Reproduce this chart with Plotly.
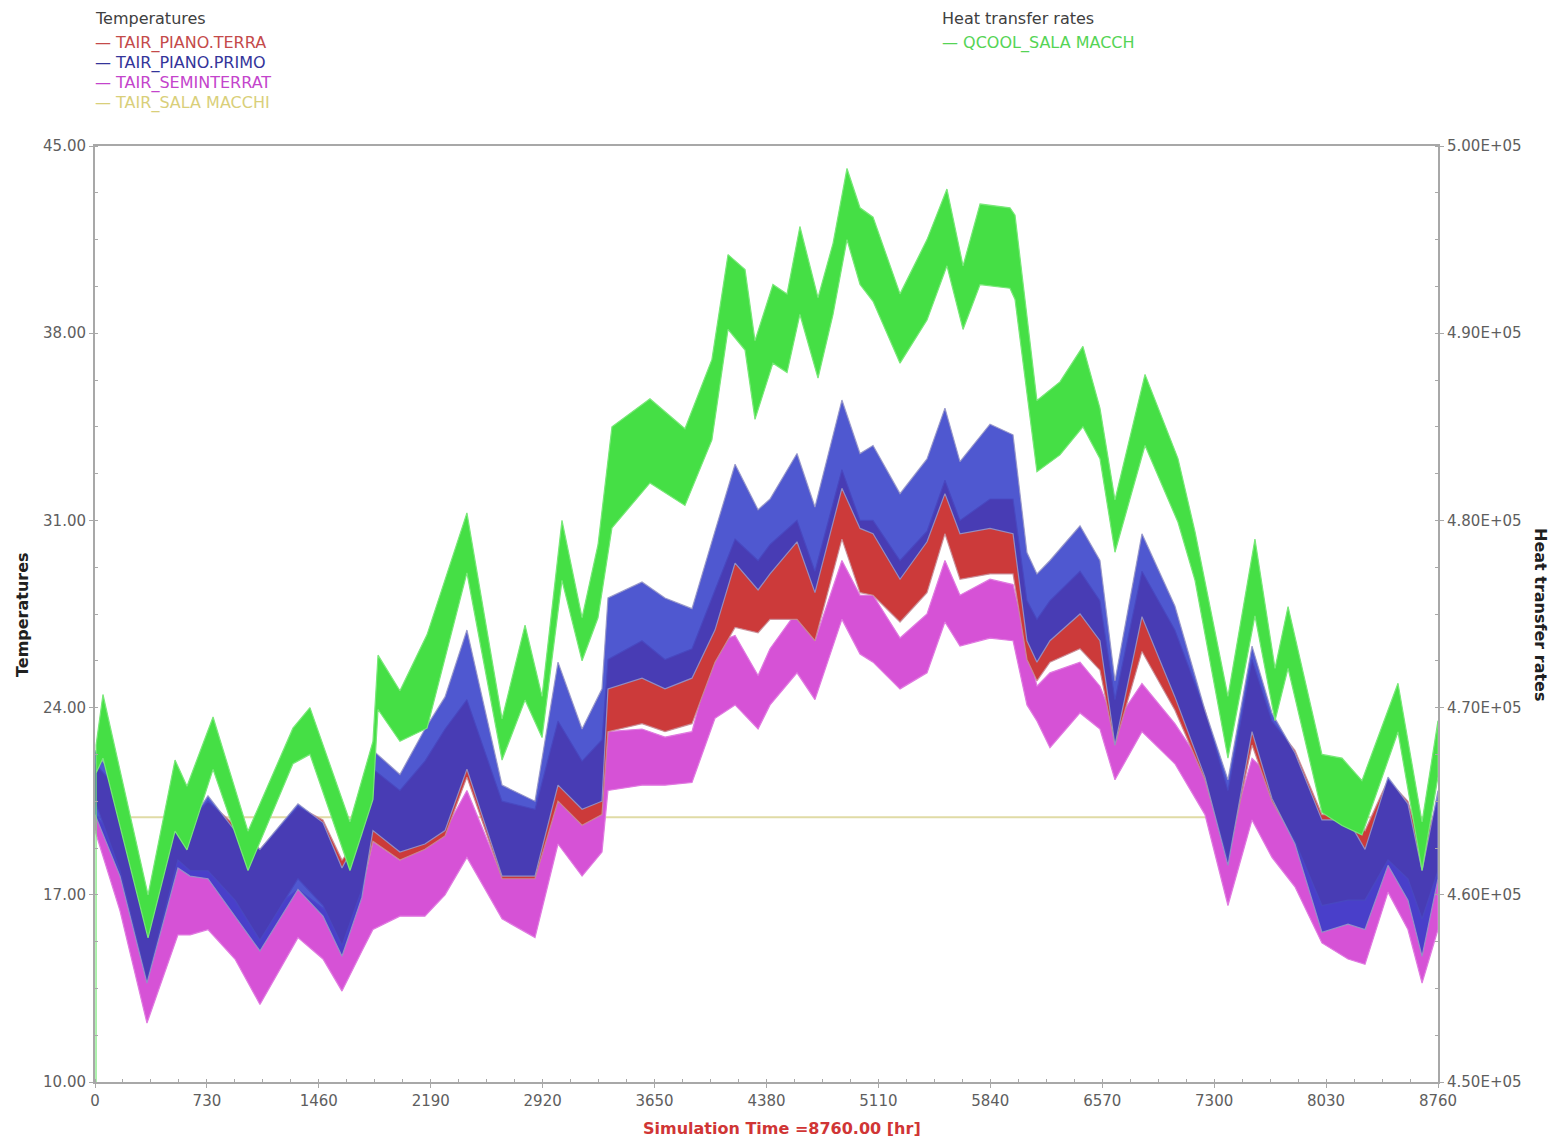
import plotly.graph_objects as go

# ---------------- data ----------------
# Temperatures: envelope (upper / lower edge of the hourly band) at sample hours
hours_t = [0, 163, 339, 541, 620, 737, 913, 1076, 1324, 1487,
           1611, 1741, 1813, 1989, 2152, 2283, 2426, 2655, 2870, 3020,
           3177, 3307, 3346, 3568, 3718, 3894, 4044, 4175, 4325, 4403,
           4579, 4696, 4872, 4990, 5075, 5251, 5427, 5544, 5642, 5838,
           5988, 6079, 6144, 6229, 6425, 6555, 6653, 6829, 7044, 7240,
           7390, 7547, 7677, 7827, 8003, 8173, 8284, 8434, 8564, 8656,
           8760]

primo_hi = [22.4, 21.1, 15.7, 21.7, 19.7, 20.7, 19.4, 18.7, 20.4, 19.7,
            18.0, 19.4, 22.4, 21.5, 23.2, 24.4, 26.9, 21.1, 20.5, 25.7,
            23.2, 24.7, 28.1, 28.7, 28.1, 27.7, 30.6, 33.1, 31.4, 31.8,
            33.5, 31.5, 35.5, 33.5, 33.8, 32.0, 33.3, 35.2, 33.2, 34.6,
            34.2, 29.8, 29.0, 29.5, 30.8, 29.5, 25.0, 30.5, 27.8, 23.9,
            21.3, 26.3, 23.8, 22.3, 19.8, 19.8, 18.7, 21.4, 20.4, 17.9,
            20.9]
primo_lo = [20.0, 17.7, 13.7, 18.0, 17.7, 17.6, 16.2, 14.9, 17.2, 16.2,
            14.7, 16.9, 19.4, 18.6, 18.9, 19.4, 21.7, 17.7, 17.7, 21.1,
            20.2, 20.5, 24.7, 25.1, 24.7, 25.1, 26.9, 29.4, 28.4, 29.0,
            30.2, 28.3, 32.2, 30.7, 30.5, 28.8, 30.2, 32.0, 30.5, 30.7,
            30.5, 26.5, 25.7, 26.5, 27.5, 26.5, 22.6, 27.4, 24.4, 21.4,
            18.1, 23.1, 20.6, 18.9, 15.6, 15.9, 15.7, 18.1, 16.8, 14.7,
            17.6]

terra_hi = [21.9, 20.9, 15.9, 21.3, 19.8, 20.5, 19.6, 18.7, 20.3, 19.8,
            18.3, 19.2, 21.7, 20.9, 22.0, 23.2, 24.3, 20.5, 20.2, 23.5,
            22.0, 22.8, 25.8, 26.5, 25.8, 26.2, 28.4, 30.3, 29.5, 30.1,
            31.0, 29.1, 32.9, 31.0, 31.0, 29.5, 30.6, 32.5, 31.0, 31.8,
            31.8, 28.0, 27.3, 28.0, 29.1, 28.0, 24.3, 29.1, 26.9, 23.9,
            20.9, 25.8, 23.5, 22.4, 20.0, 20.0, 19.4, 21.3, 20.5, 18.7,
            20.5]
terra_lo = [20.5, 17.9, 13.8, 18.3, 17.9, 17.9, 16.8, 15.3, 17.6, 16.6,
            15.1, 17.2, 19.0, 18.3, 18.7, 19.2, 21.4, 17.6, 17.6, 20.5,
            19.6, 20.0, 23.1, 23.4, 23.1, 23.4, 25.7, 27.0, 26.8, 27.3,
            27.3, 26.5, 30.3, 28.3, 28.2, 27.2, 28.3, 30.5, 28.8, 29.0,
            29.0, 25.8, 25.0, 25.7, 26.2, 25.4, 22.6, 26.1, 23.9, 21.3,
            18.3, 22.6, 20.5, 19.0, 16.6, 16.8, 16.8, 18.3, 17.6, 16.1,
            17.9]

semi_hi = [20.0, 18.9, 14.4, 18.6, 18.0, 18.5, 17.2, 16.1, 17.2, 16.5,
           15.9, 17.2, 19.0, 18.3, 18.9, 19.4, 20.9, 17.7, 18.0, 21.2,
           20.1, 20.7, 23.1, 23.2, 22.9, 23.1, 26.4, 26.7, 25.2, 26.2,
           27.6, 26.5, 29.5, 28.2, 28.2, 26.6, 27.5, 29.5, 28.2, 28.8,
           28.6, 26.5, 24.8, 25.3, 25.7, 24.8, 23.4, 24.9, 23.4, 21.7,
           19.0, 22.1, 21.4, 19.8, 17.6, 17.6, 16.8, 19.0, 18.3, 16.1,
           18.3]
semi_lo = [19.4, 16.4, 12.2, 15.5, 15.5, 15.7, 14.6, 12.9, 15.4, 14.6,
           13.4, 14.9, 15.7, 16.2, 16.2, 17.0, 18.4, 16.1, 15.4, 18.9,
           17.7, 18.6, 20.9, 21.1, 21.1, 21.2, 23.6, 24.1, 23.2, 24.1,
           25.3, 24.3, 27.3, 26.0, 25.7, 24.7, 25.3, 27.2, 26.3, 26.6,
           26.5, 24.1, 23.5, 22.5, 23.8, 23.2, 21.3, 23.1, 21.9, 20.0,
           16.6, 19.8, 18.4, 17.3, 15.2, 14.6, 14.4, 17.1, 15.7, 13.7,
           15.7]

sala_hours = [0, 8760]
sala_temp = [19.9, 19.9]

# Heat transfer rate QCOOL (right axis)
hours_q = [0, 7, 52, 346, 522, 600, 770, 998, 1291, 1402,
           1663, 1813, 1846, 1989, 2166, 2426, 2655, 2805, 2916, 3046,
           3177, 3281, 3372, 3620, 3848, 4024, 4129, 4240, 4305, 4422,
           4514, 4598, 4716, 4814, 4905, 4990, 5075, 5251, 5427, 5557,
           5662, 5773, 5968, 6001, 6144, 6294, 6444, 6555, 6653, 6849,
           7064, 7175, 7390, 7566, 7697, 7782, 8003, 8134, 8264, 8499,
           8656, 8760]
q_hi = [0, 468000, 470700, 460000, 467200, 465800, 469500, 463400, 468900, 470000,
        463900, 468200, 472800, 470900, 473900, 480400, 469400, 474400, 470600, 480000,
        474800, 478700, 485000, 486500, 484900, 488600, 494200, 493400, 489600, 492600,
        492100, 495700, 491900, 494800, 498800, 496700, 496200, 492100, 495000, 497700,
        493600, 496900, 496700, 496300, 486400, 487400, 489300, 486000, 481100, 487800,
        483300, 479400, 470600, 479000, 472100, 475400, 467500, 467300, 466100, 471300,
        463900, 469300]
q_lo = [0, 466500, 467300, 457700, 463400, 462400, 466700, 461300, 467000, 467500,
        461300, 465100, 469900, 468200, 468900, 477200, 467200, 470400, 468400, 476800,
        472500, 474800, 479600, 482000, 480800, 484300, 490200, 489100, 485400, 488400,
        487900, 491000, 487600, 491000, 495000, 492600, 491700, 488400, 490700, 493600,
        490200, 492600, 492400, 491800, 482600, 483500, 485000, 483300, 478300, 484000,
        479900, 476800, 467300, 474900, 469300, 472100, 464400, 463700, 463200, 468700,
        461300, 466300]

x_ticks = [0, 730, 1460, 2190, 2920, 3650, 4380, 5110, 5840, 6570, 7300, 8030, 8760]
t_ticks = [10, 17, 24, 31, 38, 45]
q_ticks = [450000, 460000, 470000, 480000, 490000, 500000]

# ---------------- figure ----------------
W, H = 1558, 1143
L, R, T, B = 95, 120, 146, 61
PW, PH = W - L - R, H - T - B


def px(x):
    return (x - L) / PW


def py(y):
    return (H - B - y) / PH


FONT = "DejaVu Sans"
fig = go.Figure()


def band(hours, hi, lo, fillcolor, linecolor, yaxis="y"):
    fig.add_trace(go.Scatter(
        x=list(hours) + list(hours)[::-1],
        y=list(hi) + list(lo)[::-1],
        fill="toself", fillcolor=fillcolor, mode="lines",
        line=dict(color=linecolor, width=1.2),
        yaxis=yaxis, showlegend=False, hoverinfo="skip"))


fig.add_trace(go.Scatter(x=sala_hours, y=sala_temp, mode="lines",
                         line=dict(color="#e0dba6", width=2),
                         showlegend=False, hoverinfo="skip"))
band(hours_t, semi_hi, semi_lo, "#d652d6", "#e07ae0")
band(hours_t, terra_hi, terra_lo, "#cc3a3a", "rgba(200,140,150,0.9)")
band(hours_t, primo_hi, primo_lo, "rgba(50,60,200,0.86)", "rgba(150,150,200,0.9)")
band(hours_q, q_hi, q_lo, "#45df45", "#78e878", yaxis="y2")

tick_font = dict(family=FONT, size=15, color="#5e5e5e")
axis_col = "#a8a8a8"

fig.update_layout(
    width=W, height=H, autosize=False,
    margin=dict(l=L, r=R, t=T, b=B, autoexpand=False),
    paper_bgcolor="white", plot_bgcolor="white",
    showlegend=False,
    xaxis=dict(range=[0, 8760], tickmode="array", tickvals=x_ticks,
               ticktext=[str(v) for v in x_ticks], tickfont=tick_font,
               showgrid=False, zeroline=False, showline=True, linecolor=axis_col,
               linewidth=2, mirror=True, ticks="outside", ticklen=4, tickcolor=axis_col,
               automargin=False,
               minor=dict(dtick=182.5, tick0=0, ticks="inside", ticklen=3, tickcolor=axis_col)),
    yaxis=dict(range=[10, 45], tickmode="array", tickvals=t_ticks,
               ticktext=[f"{v:.2f}" for v in t_ticks], tickfont=tick_font,
               showgrid=False, zeroline=False, showline=True, linecolor=axis_col,
               linewidth=2, ticks="outside", ticklen=4, tickcolor=axis_col,
               automargin=False,
               minor=dict(dtick=1.75, tick0=10, ticks="inside", ticklen=3, tickcolor=axis_col)),
    yaxis2=dict(range=[450000, 500000], overlaying="y", side="right",
                tickmode="array", tickvals=q_ticks,
                ticktext=[f"{v:.2E}" for v in q_ticks], tickfont=tick_font,
                showgrid=False, zeroline=False, showline=True, linecolor=axis_col,
                linewidth=2, ticks="outside", ticklen=4, tickcolor=axis_col,
                automargin=False,
                minor=dict(dtick=2500, tick0=450000, ticks="inside", ticklen=3, tickcolor=axis_col)),
)

ann = []


def text(x, y, s, color, size=16, bold=False, angle=0, xanchor="left"):
    ann.append(dict(xref="paper", yref="paper", x=px(x), y=py(y), text=(f"<b>{s}</b>" if bold else s),
                    showarrow=False, xanchor=xanchor, yanchor="middle", textangle=angle,
                    font=dict(family=FONT, size=size, color=color)))


# legend blocks
text(93, 18, "Temperatures", "#404040")
text(93, 43, "\u2014 TAIR_PIANO.TERRA", "#c44a4a")
text(93, 63, "\u2014 TAIR_PIANO.PRIMO", "#34349a")
text(93, 83, "\u2014 TAIR_SEMINTERRAT", "#c444cc")
text(93, 103, "\u2014 TAIR_SALA MACCHI", "#d9cf7a")
text(940, 18, "Heat transfer rates", "#404040")
text(940, 43, "\u2014 QCOOL_SALA MACCH", "#55d455")

# axis titles
text(22, 615, "Temperatures", "#202020", bold=True, angle=-90, xanchor="center")
text(1541, 615, "Heat transfer rates", "#202020", bold=True, angle=90, xanchor="center")
text(782, 1128, "Simulation Time =8760.00 [hr]", "#d03535", bold=True, xanchor="center")

fig.update_layout(annotations=ann)
fig.write_html("out.html", config={"displayModeBar": False},
               post_script="document.body.style.margin='0px';")
